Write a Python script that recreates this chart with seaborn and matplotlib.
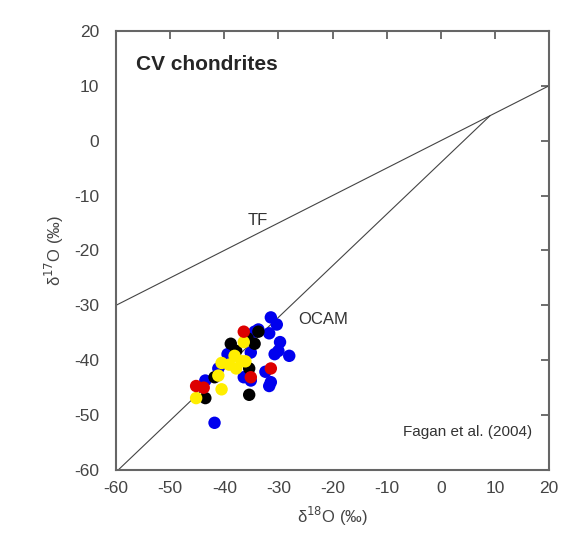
import matplotlib
matplotlib.use("Agg")
import matplotlib.pyplot as plt
import seaborn as sns
import pandas as pd

# Data
blue_x = [-31.4, -30.3, -31.7, -34.4, -29.7, -30.0, -28.0, -30.7, -32.4, -31.4, -31.7,
          -35.1, -36.4, -41.8, -43.5, -39.4, -35.1, -33.7, -41.1]
blue_y = [-32.2, -33.5, -35.1, -34.8, -36.7, -38.3, -39.2, -38.9, -42.1, -44.0, -44.7,
          -43.7, -43.1, -51.4, -43.7, -38.9, -38.6, -34.4, -41.5]
black_x = [-38.8, -34.4, -33.7, -35.7, -41.8, -43.5, -35.4, -35.4, -37.8]
black_y = [-37.0, -37.0, -34.8, -36.0, -43.1, -46.9, -46.3, -41.5, -38.3]
yellow_x = [-36.4, -40.5, -38.1, -36.8, -37.8, -36.1, -40.5, -45.2, -41.1, -39.1]
yellow_y = [-36.7, -40.5, -39.2, -40.2, -41.5, -40.2, -45.3, -46.9, -42.8, -40.8]
red_x = [-36.4, -31.4, -35.1, -45.2, -43.8]
red_y = [-34.8, -41.5, -43.1, -44.7, -45.0]

tf_x = [-60, 20]
tf_y = [-30, 10]
ccam_x = [-59.6, 9.1]
ccam_y = [-60.0, 4.55]

ticks = [-60, -50, -40, -30, -20, -10, 0, 10, 20]

sns.set_theme(style="white")
plt.rcParams['font.family'] = ['Liberation Sans', 'DejaVu Sans']
plt.rcParams['axes.unicode_minus'] = False

groups = []
for name, xs, ys in [("blue", blue_x, blue_y), ("black", black_x, black_y),
                     ("yellow", yellow_x, yellow_y), ("red", red_x, red_y)]:
    groups.append(pd.DataFrame({"d18O": xs, "d17O": ys, "group": name}))
df = pd.concat(groups, ignore_index=True)

fig = plt.figure(figsize=(5.78, 5.51), dpi=100)
ax = fig.add_axes([0.2007, 0.147, 0.7493, 0.797])

line_df = pd.DataFrame({"x": tf_x + ccam_x, "y": tf_y + ccam_y,
                        "line": ["TF"] * 2 + ["CCAM"] * 2})
sns.lineplot(data=line_df, x="x", y="y", units="line", estimator=None,
             color="#444444", lw=0.8, ax=ax, legend=False, sort=False)

palette = {"blue": "#0000ee", "black": "#000000", "yellow": "#ffee00", "red": "#dd0000"}
sns.scatterplot(data=df, x="d18O", y="d17O", hue="group", palette=palette,
                s=80, edgecolor="none", linewidth=0, legend=False, ax=ax, zorder=3)

ax.set_xlim(-60, 20)
ax.set_ylim(-60, 20)
ax.set_xticks(ticks)
ax.set_yticks(ticks)
ax.tick_params(direction="in", length=6, width=1.2, color="#555555",
               top=True, right=True, labelsize=12.5, labelcolor="#444444", pad=8)
ax.tick_params(axis="y", pad=12)
for sp in ax.spines.values():
    sp.set_color("#666666")
    sp.set_linewidth(1.5)

ax.set_xlabel("δ$^{18}$O (‰)", fontsize=12, color="#444444", labelpad=6)
ax.set_ylabel("δ$^{17}$O (‰)", fontsize=12, color="#444444", labelpad=6)

ax.text(-56.3, 13.8, "CV chondrites", fontsize=15, fontweight="bold", va="center", ha="left")
ax.text(-33.9, -14.6, "TF", fontsize=12, color="#333333", va="center", ha="center")
ax.text(-26.3, -32.5, "OCAM", fontsize=12, color="#333333", va="center", ha="left")
ax.text(16.8, -53, "Fagan et al. (2004)", fontsize=11, color="#333333", va="center", ha="right")

fig.savefig("out.png", dpi=100, facecolor="white")
